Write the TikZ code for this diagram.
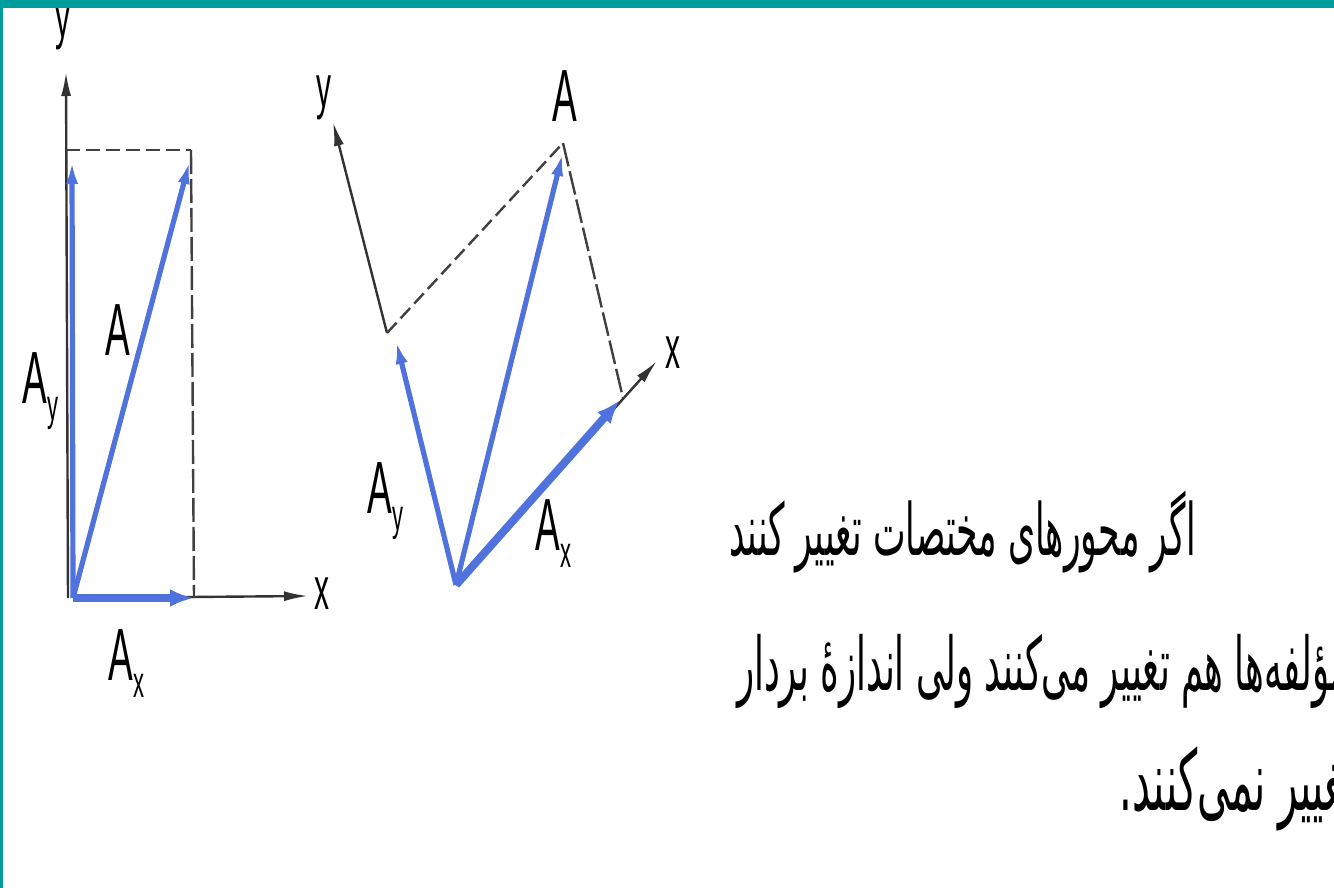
\documentclass[tikz,border=0pt]{standalone}
\usepackage{fontspec}
\setmainfont{Liberation Sans}
\newfontfamily\labfont[FakeStretch=0.5]{Liberation Sans}
\newfontfamily\fafont[Script=Arabic,FakeStretch=0.48]{DejaVu Sans}
\TeXXeTstate=1
\usetikzlibrary{arrows.meta}
\definecolor{vecblue}{HTML}{4F72DC}
\definecolor{framecol}{HTML}{009C9C}
\newcommand{\compo}[2]{#1\raisebox{-0.23em}{\fontsize{22}{22}\selectfont #2}}

\begin{document}
\begin{tikzpicture}[
  x=0.5pt, y=-0.5pt,
  vec/.style={vecblue, line width=2.6pt, -{Latex[length=12pt,width=6pt]}},
  vecx/.style={vec, line width=4pt, -{Latex[length=12pt,width=9pt]}},
  axis/.style={black!80, line width=1.2pt, -{Latex[length=12pt,width=5pt]}},
  guide/.style={black!75, line width=1.2pt, dash pattern=on 7pt off 3pt},
  longguide/.style={guide, dash pattern=on 12pt off 2.5pt},
  lab/.style={font=\labfont\fontsize{37}{40}\selectfont, inner sep=0pt},
  small/.style={font=\labfont\fontsize{30}{32}\selectfont, inner sep=0pt},
  fatext/.style={inner sep=0pt, anchor=base east},
]
\useasboundingbox (0,0) rectangle (1334,888);
\clip (0,0) rectangle (1334,888);

%% left frame
\coordinate (o1)  at (73,598);
\coordinate (y1)  at (66,72);
\coordinate (c1)  at (66,150);
\coordinate (a1)  at (191,150);
\coordinate (ax1) at (194,598);
\coordinate (x1)  at (308,596);

\draw[axis] (o1) -- (x1);
\draw[axis] (68,598) -- (y1);
\draw[guide] (c1) -- (a1);
\draw[longguide] (a1) -- (ax1);
\draw[vec] (o1) -- (72,160);
\draw[vec] (o1) -- (190,160);
\draw[vecx] (o1) -- (ax1);

\node[small] (ly1) at (63,28) {y};
\node[small] (lx1) at (322,594) {x};
\node[lab] (lA1) at (118,330) {A};
\node[lab, anchor=base west] (lAy1) at (22,403) {\compo{A}{y}};
\node[lab, anchor=base west] (lAx1) at (108,680) {\compo{A}{x}};

%% rotated frame
\coordinate (o2)  at (456,585);
\coordinate (c2)  at (387,333);
\coordinate (y2)  at (333,122);
\coordinate (a2)  at (563,143);
\coordinate (cx2) at (623,398);
\coordinate (x2)  at (657,361);

\draw[axis] (o2) -- (x2);
\draw[axis] (c2) -- (y2);
\draw[guide] (c2) -- (a2);
\draw[longguide] (a2) -- (cx2);
\draw[vec] (o2) -- (396,340);
\draw[vec] (o2) -- (563,152);
\draw[vecx] (o2) -- (620,400);

\node[small] (ly2) at (324,98) {y};
\node[small] (lx2) at (673,353) {x};
\node[lab] (lA2) at (565,96) {A};
\node[lab, anchor=base west] (lAy2) at (367,513) {\compo{A}{y}};
\node[lab, anchor=base west] (lAx2) at (535,550) {\compo{A}{x}};

%% caption
\node[fatext, font=\fafont\fontsize{36}{40}\selectfont] (line1) at (1196,555)
  {\beginR اگر محورهای مختصات تغییر کنند\endR};
\node[fatext, font=\fafont\fontsize{37}{40}\selectfont] (line2) at (1350,690)
  {\beginR مؤلفه‌ها هم تغییر می‌کنند ولی اندازهٔ بردار\endR};
\node[fatext, font=\fafont\fontsize{42}{44}\selectfont] (line3) at (1356,810)
  {\beginR تغییر نمی‌کنند.\endR};

%% frame band
\fill[framecol] (0,0) rectangle (1334,8);
\fill[framecol] (0,0) rectangle (3,888);
\end{tikzpicture}
\end{document}
